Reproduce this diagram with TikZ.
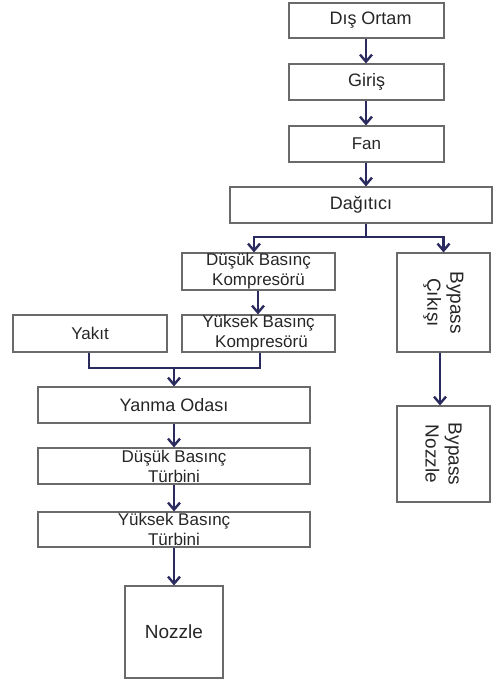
\documentclass[tikz,border=0pt]{standalone}
\usepackage{fontspec}
\setmainfont{Liberation Sans}
\usetikzlibrary{arrows.meta}
\definecolor{flow}{HTML}{2A2A5E}
\definecolor{edge}{HTML}{6A6A6A}
\definecolor{ink}{HTML}{262626}
\tikzset{
  frame/.style={draw=edge, line width=1.1pt, inner sep=0pt},
  blk/.style={frame, align=center, text=ink, font=\fontsize{18}{21}\selectfont},
  twoline/.style={blk, font=\fontsize{17}{20}\selectfont},
  sideways/.style={inner sep=0pt, align=center, text=ink, rotate=-90,
    font=\fontsize{19}{23}\selectfont},
  link/.style={draw=flow, line width=2.6pt},
  flowarrow/.style={link, -{Straight Barb[length=7pt,width=12pt,line width=2.4pt]}},
}
\begin{document}
\begin{tikzpicture}[x=1pt,y=-1pt]
\useasboundingbox (0,0) rectangle (493,687);

% main stack
\node[blk, minimum width=155pt, minimum height=35pt] (dis)   at (366.5,20.5) {\hspace*{8pt}Dış Ortam};
\node[blk, minimum width=155pt, minimum height=36pt] (giris) at (366.5,82)   {Giriş};
\node[blk, minimum width=155pt, minimum height=36pt, font=\fontsize{17}{20}\selectfont] (fan) at (366.5,144) {Fan};
\node[blk, minimum width=262pt, minimum height=36pt] (dag)   at (361,205)    {Dağıtıcı};

% core branch
\node[twoline, minimum width=153pt, minimum height=37pt] (dbk) at (258.5,271.5) {Düşük Basınç\\Kompresörü};
\node[twoline, minimum width=153pt, minimum height=37pt] (ybk) at (258.5,333.5) {Yüksek Basınç\\\hspace*{6pt}Kompresörü};
\node[blk, minimum width=154pt, minimum height=37pt, font=\fontsize{17}{20}\selectfont] (yakit) at (90,333.5) {Yakıt};
\node[blk, minimum width=272pt, minimum height=36pt] (yanma) at (174,405) {Yanma Odası};
\node[twoline, minimum width=272pt, minimum height=36pt] (dbt) at (174,466) {Düşük Basınç\\Türbini};
\node[twoline, minimum width=272pt, minimum height=35pt] (ybt) at (174,529.5) {Yüksek Basınç\\Türbini};
\node[blk, minimum width=98pt, minimum height=92pt, font=\fontsize{19}{22}\selectfont] (noz) at (174,632) {Nozzle};

% bypass branch
\node[frame, minimum width=93pt, minimum height=99pt] (bcik) at (443.5,302.5) {};
\node[sideways] at (bcik.center) {Bypass\\Çıkışı};
\node[frame, minimum width=93pt, minimum height=96pt] (bnoz) at (443.5,454) {};
\node[sideways] at (bnoz.center) {Bypass\\Nozzle};

% junction points
\coordinate (split) at (366,237);
\coordinate (splitL) at (254,237);
\coordinate (splitR) at (443.5,237);
\coordinate (merge) at (174,368);
\coordinate (mergeL) at (89,368);
\coordinate (mergeR) at (260,368);

% connectors
\draw[flowarrow] (dis.south -| 366,0) -- (giris.north -| 366,0);
\draw[flowarrow] (giris.south -| 366,0) -- (fan.north -| 366,0);
\draw[flowarrow] (fan.south -| 366,0) -- (dag.north -| 366,0);

\draw[link] (dag.south -| split) -- (split);
\draw[link, line cap=rect] (splitL) -- (splitR);
\draw[flowarrow] (splitL) -- (dbk.north -| splitL);
\draw[flowarrow] (splitR) -- (bcik.north);

\draw[flowarrow] (dbk.south -| 258,0) -- (ybk.north -| 258,0);

\draw[link, line join=miter] (yakit.south -| mergeL) -- (mergeL) -- (mergeR) -- (ybk.south -| mergeR);
\draw[flowarrow] (merge) -- (yanma.north);

\draw[flowarrow] (yanma.south) -- (dbt.north);
\draw[flowarrow] (dbt.south) -- (ybt.north);
\draw[flowarrow] (ybt.south) -- (noz.north);

\draw[flowarrow] (bcik.south -| 440,0) -- (bnoz.north -| 440,0);
\end{tikzpicture}
\end{document}
